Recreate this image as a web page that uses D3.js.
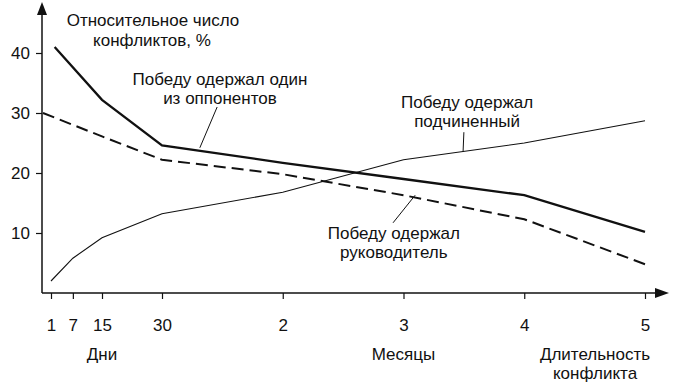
<!DOCTYPE html>
<html>
<head>
<meta charset="utf-8">
<script src="https://cdn.jsdelivr.net/npm/d3@7"></script>
<style>
  body { margin: 0; background: #fff; }
  svg text { font-family: "Liberation Sans", Arial, sans-serif; fill: #111; }
</style>
</head>
<body>
<svg id="chart" width="683" height="383"></svg>
<script>
// ticks on the time axis (days, then months)
const tickDays = [1, 7, 15, 30, 60, 90, 120, 150];
const tickLabels = ["1", "7", "15", "30", "2", "3", "4", "5"];
const yTicks = [10, 20, 30, 40];

// "Победу одержал один из оппонентов"
const opponentDays = [2, 15, 30, 60, 90, 120, 150];
const opponentValues = [41, 32.2, 24.6, 21.7, 19, 16.3, 10.2];

// "Победу одержал руководитель"
const leaderDays = [0, 15, 30, 60, 90, 120, 150];
const leaderValues = [30, 26.1, 22.2, 19.8, 16.3, 12.3, 4.8];

// "Победу одержал подчиненный"
const subordinateDays = [1, 7, 15, 30, 60, 90, 120, 150];
const subordinateValues = [2, 5.8, 9.2, 13.2, 16.8, 22.2, 25, 28.7];

const svg = d3.select("#chart");
const x0 = 42, y0 = 293;
const fs = "17px";

// days are drawn wider than months, so the scale is piecewise
const x = d3.scaleLinear()
  .domain([0, 1, 15, 30, 150])
  .range([43, 51, 102, 162, 645]);

const y = d3.scaleLinear()
  .domain([0, 40])
  .range([y0, 53]);

// axes
svg.append("g")
  .attr("transform", `translate(${x0},0)`)
  .call(d3.axisLeft(y).tickValues(yTicks).tickSize(6).tickPadding(6))
  .call(g => g.select(".domain").remove())
  .call(g => g.selectAll("line").attr("stroke", "#111").attr("stroke-width", 1.2))
  .call(g => g.selectAll("text").style("font-size", fs).attr("fill", "#111"));

svg.append("g")
  .attr("transform", `translate(0,${y0})`)
  .call(d3.axisBottom(x).tickValues(tickDays).tickSize(6).tickPadding(20)
    .tickFormat((d, i) => tickLabels[i]))
  .call(g => g.select(".domain").remove())
  .call(g => g.selectAll("line").attr("stroke", "#111").attr("stroke-width", 1.2))
  .call(g => g.selectAll("text").style("font-size", fs).attr("fill", "#111"));

// axis lines with arrows
svg.append("line").attr("x1", x0).attr("y1", y0).attr("x2", x0).attr("y2", 12)
  .attr("stroke", "#111").attr("stroke-width", 1.5);
svg.append("path").attr("d", `M${x0},2 L${x0 - 5},15 L${x0 + 5},15 Z`).attr("fill", "#111");

svg.append("line").attr("x1", x0).attr("y1", y0).attr("x2", 660).attr("y2", y0)
  .attr("stroke", "#111").attr("stroke-width", 1.5);
svg.append("path").attr("d", `M669,${y0} L655,${y0 - 5} L655,${y0 + 5} Z`).attr("fill", "#111");

// series
const line = d3.line().x(d => x(d[0])).y(d => y(d[1]));

svg.append("path")
  .datum(d3.zip(opponentDays, opponentValues))
  .attr("d", line).attr("fill", "none")
  .attr("stroke", "#111").attr("stroke-width", 2.3);

svg.append("path")
  .datum(d3.zip(leaderDays, leaderValues))
  .attr("d", line).attr("fill", "none")
  .attr("stroke", "#111").attr("stroke-width", 2)
  .attr("stroke-dasharray", "12,6");

svg.append("path")
  .datum(d3.zip(subordinateDays, subordinateValues))
  .attr("d", line).attr("fill", "none")
  .attr("stroke", "#111").attr("stroke-width", 1.1);

// annotations, positions in data units
const notes = [
  { lines: ["Победу одержал один", "из оппонентов"], at: [44.4, 35.6], from: [43.7, 31], to: [39.4, 24.2] },
  { lines: ["Победу одержал", "подчиненный"], at: [105.8, 31.8], from: [105, 26.8], to: [104.8, 23.5] },
  { lines: ["Победу одержал", "руководитель"], at: [87.6, 10], from: [87.4, 11.7], to: [92.9, 16.3] }
];

notes.forEach(n => {
  const t = svg.append("text")
    .attr("text-anchor", "middle")
    .style("font-size", fs);
  n.lines.forEach((s, i) => {
    t.append("tspan")
      .attr("x", x(n.at[0]))
      .attr("y", y(n.at[1]) + 6 + i * 19)
      .text(s);
  });
  svg.append("line")
    .attr("x1", x(n.from[0])).attr("y1", y(n.from[1]))
    .attr("x2", x(n.to[0])).attr("y2", y(n.to[1]))
    .attr("stroke", "#111").attr("stroke-width", 1);
});

// axis titles
const yTitle = svg.append("text").attr("text-anchor", "middle").style("font-size", fs);
yTitle.append("tspan").attr("x", 153).attr("y", 26).text("Относительное число");
yTitle.append("tspan").attr("x", 152).attr("y", 46).text("конфликтов, %");

svg.append("text").attr("x", x(15)).attr("y", 360).attr("text-anchor", "middle")
  .style("font-size", fs).text("Дни");
svg.append("text").attr("x", x(90)).attr("y", 360).attr("text-anchor", "middle")
  .style("font-size", fs).text("Месяцы");

const xTitle = svg.append("text").attr("text-anchor", "middle").style("font-size", fs);
xTitle.append("tspan").attr("x", 595).attr("y", 360).text("Длительность");
xTitle.append("tspan").attr("x", 595).attr("y", 379).text("конфликта");
</script>
</body>
</html>
